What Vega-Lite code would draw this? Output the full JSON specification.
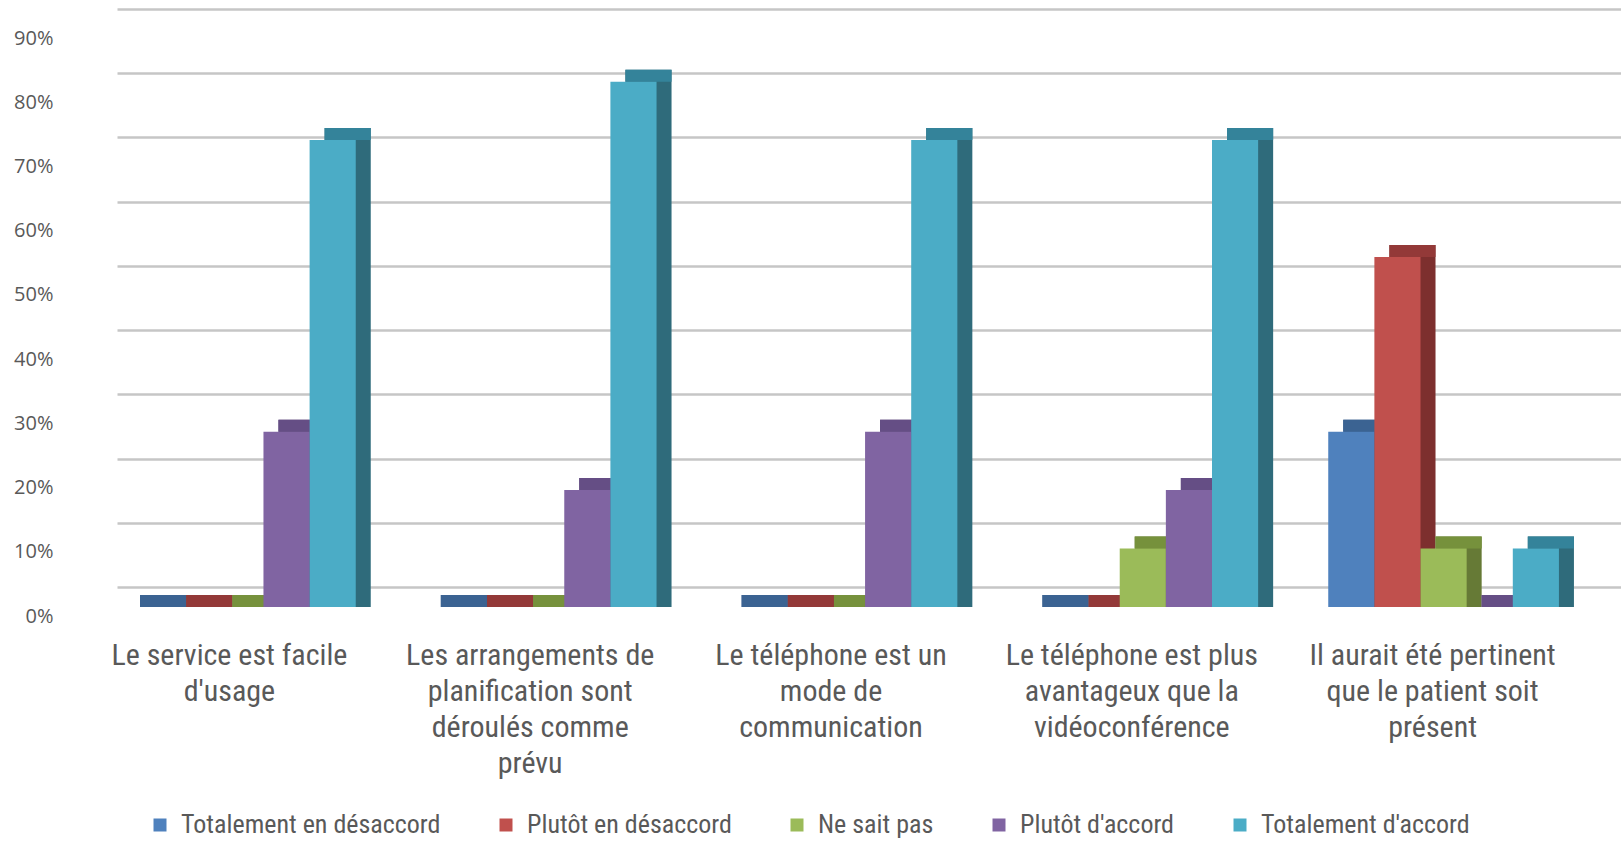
{
  "$schema": "https://vega.github.io/schema/vega-lite/v6.json",
  "autosize": {"type": "none"},
  "width": 1504,
  "height": 578,
  "padding": {"left": 117, "top": 9, "right": 0, "bottom": 256},
  "background": "#ffffff",
  "data": {
    "values": [
      {"q": "Le service est facile|d'usage", "s": "Totalement en désaccord", "v": 0},
      {"q": "Le service est facile|d'usage", "s": "Plutôt en désaccord", "v": 0},
      {"q": "Le service est facile|d'usage", "s": "Ne sait pas", "v": 0},
      {"q": "Le service est facile|d'usage", "s": "Plutôt d'accord", "v": 0.273},
      {"q": "Le service est facile|d'usage", "s": "Totalement d'accord", "v": 0.727},
      {"q": "Les arrangements de|planification sont|déroulés comme|prévu", "s": "Totalement en désaccord", "v": 0},
      {"q": "Les arrangements de|planification sont|déroulés comme|prévu", "s": "Plutôt en désaccord", "v": 0},
      {"q": "Les arrangements de|planification sont|déroulés comme|prévu", "s": "Ne sait pas", "v": 0},
      {"q": "Les arrangements de|planification sont|déroulés comme|prévu", "s": "Plutôt d'accord", "v": 0.182},
      {"q": "Les arrangements de|planification sont|déroulés comme|prévu", "s": "Totalement d'accord", "v": 0.818},
      {"q": "Le téléphone est un|mode de|communication", "s": "Totalement en désaccord", "v": 0},
      {"q": "Le téléphone est un|mode de|communication", "s": "Plutôt en désaccord", "v": 0},
      {"q": "Le téléphone est un|mode de|communication", "s": "Ne sait pas", "v": 0},
      {"q": "Le téléphone est un|mode de|communication", "s": "Plutôt d'accord", "v": 0.273},
      {"q": "Le téléphone est un|mode de|communication", "s": "Totalement d'accord", "v": 0.727},
      {"q": "Le téléphone est plus|avantageux que la|vidéoconférence", "s": "Totalement en désaccord", "v": 0},
      {"q": "Le téléphone est plus|avantageux que la|vidéoconférence", "s": "Plutôt en désaccord", "v": 0},
      {"q": "Le téléphone est plus|avantageux que la|vidéoconférence", "s": "Ne sait pas", "v": 0.091},
      {"q": "Le téléphone est plus|avantageux que la|vidéoconférence", "s": "Plutôt d'accord", "v": 0.182},
      {"q": "Le téléphone est plus|avantageux que la|vidéoconférence", "s": "Totalement d'accord", "v": 0.727},
      {"q": "Il aurait été pertinent|que le patient soit|présent", "s": "Totalement en désaccord", "v": 0.273},
      {"q": "Il aurait été pertinent|que le patient soit|présent", "s": "Plutôt en désaccord", "v": 0.545},
      {"q": "Il aurait été pertinent|que le patient soit|présent", "s": "Ne sait pas", "v": 0.091},
      {"q": "Il aurait été pertinent|que le patient soit|présent", "s": "Plutôt d'accord", "v": 0},
      {"q": "Il aurait été pertinent|que le patient soit|présent", "s": "Totalement d'accord", "v": 0.091}
    ]
  },
  "encoding": {
    "x": {
      "field": "q", "type": "nominal", "sort": null,
      "scale": {"paddingInner": 0.233, "paddingOuter": 0.1165},
      "axis": {
        "title": null, "labelAngle": 0, "domain": false, "ticks": false,
        "labelExpr": "split(datum.value, '|')",
        "labelFont": "Liberation Sans Narrow, Arial Narrow, Roboto Condensed, Noto Sans Condensed, DejaVu Sans Condensed, sans-serif",
        "labelFontSize": 30, "labelLimit": 0,
        "labelColor": "#595959", "labelLineHeight": 36,
        "labelPadding": 53, "labelOffset": -38, "labelBaseline": "top"
      }
    },
    "y": {
      "field": "v", "type": "quantitative", "stack": null,
      "scale": {"domain": [0, 0.9], "nice": false},
      "axis": {
        "title": null, "format": ".0%", "values": [0, 0.1, 0.2, 0.3, 0.4, 0.5, 0.6, 0.7, 0.8, 0.9],
        "domain": false, "ticks": false, "tickSize": 0,
        "grid": true, "gridColor": "#c6c6c6", "gridWidth": 2.5,
        "labelFont": "Open Sans", "labelFontSize": 20, "labelColor": "#595959",
        "labelPadding": 64, "labelOffset": 29
      }
    }
  },
  "layer": [
    {
      "mark": {"type": "bar", "yOffset": 8, "y2Offset": 20},
      "encoding": {
        "xOffset": {"field": "s", "type": "nominal", "sort": null, "scale": {"paddingInner": 0, "paddingOuter": 0, "range": [-12, 218.7]}},
        "y2": {"datum": 0},
        "color": {
          "field": "s", "type": "nominal", "sort": null,
          "scale": {
            "domain": ["Totalement en désaccord", "Plutôt en désaccord", "Ne sait pas", "Plutôt d'accord", "Totalement d'accord"],
            "range": ["#365a87", "#7d2f2e", "#667a36", "#5c4879", "#2f6b7b"]
          },
          "legend": null
        }
      }
    },
    {
      "mark": {"type": "bar", "yOffset": 8, "y2Offset": 20},
      "encoding": {
        "xOffset": {"field": "s", "type": "nominal", "sort": null, "scale": {"paddingInner": 0, "paddingOuter": 0, "range": [-12, 218.7]}},
        "y2": {"field": "v"},
        "color": {
          "field": "s", "type": "nominal", "sort": null,
          "scale": {
            "domain": ["Totalement en désaccord", "Plutôt en désaccord", "Ne sait pas", "Plutôt d'accord", "Totalement d'accord"],
            "range": ["#3b6392", "#933938", "#76913c", "#654e85", "#34839a"]
          },
          "legend": null
        }
      }
    },
    {
      "mark": {"type": "bar", "yOffset": 20, "y2Offset": 20},
      "encoding": {
        "xOffset": {"field": "s", "type": "nominal", "sort": null, "scale": {"paddingInner": 0, "paddingOuter": 0, "range": [-27, 203.7]}},
        "y2": {"datum": 0},
        "color": {
          "field": "s", "type": "nominal", "sort": null,
          "scale": {
            "domain": ["Totalement en désaccord", "Plutôt en désaccord", "Ne sait pas", "Plutôt d'accord", "Totalement d'accord"],
            "range": ["#4f81bd", "#c0504d", "#9bbb59", "#8064a2", "#4bacc6"]
          },
          "legend": {
            "title": null, "orient": "none", "legendX": 30, "legendY": 803,
            "direction": "horizontal", "columns": 5, "columnPadding": 52,
            "symbolType": "square", "symbolSize": 169, "symbolStrokeWidth": 0,
            "labelFont": "Liberation Sans Narrow, Arial Narrow, Roboto Condensed, Noto Sans Condensed, DejaVu Sans Condensed, sans-serif",
            "labelFontSize": 26,
            "labelColor": "#595959", "labelOffset": 8, "labelLimit": 0
          }
        }
      }
    }
  ],
  "resolve": {"scale": {"color": "independent", "xOffset": "independent"}},
  "config": {"view": {"stroke": null}}
}
